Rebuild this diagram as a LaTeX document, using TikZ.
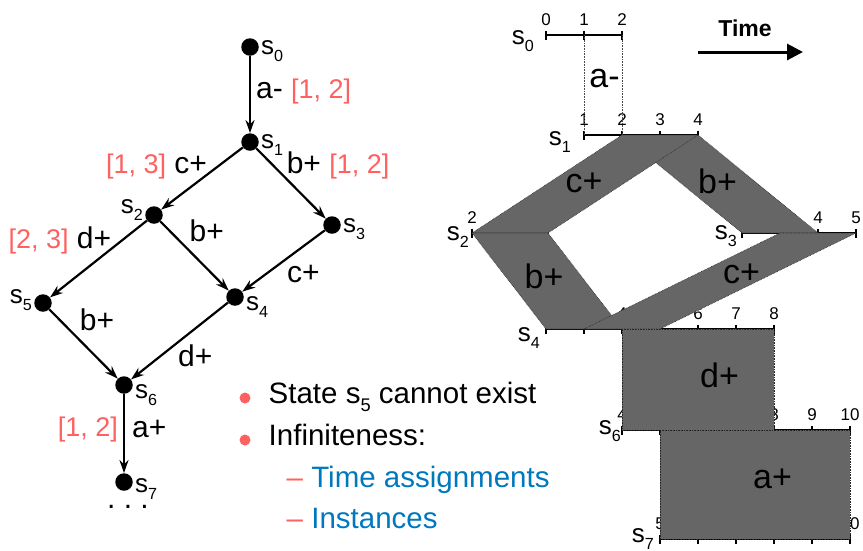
\documentclass[tikz,border=0pt]{standalone}
\usepackage{fontspec}
\setmainfont{Liberation Sans}
\usetikzlibrary{arrows.meta, positioning}

\definecolor{ired}{RGB}{255,96,96}
\definecolor{iblue}{RGB}{0,120,190}
\newcommand{\idx}[1]{\raisebox{-.3em}{\scalebox{.62}{#1}}}
\newcommand{\ivl}[1]{{\color{ired}\fontsize{27}{28}\selectfont #1}}

\tikzset{
  stnode/.style={circle, fill=black, minimum size=17.5pt, inner sep=0pt},
  slbl/.style={font=\fontsize{26}{27}\selectfont, inner sep=1pt},
  trans/.style={line width=2.2pt, -{Stealth[length=13pt, width=9pt]}},
  lbl/.style={font=\fontsize{30}{31}\selectfont, inner sep=1pt},
  tline/.style={line width=2.4pt},
  tickmark/.style={line width=1.8pt},
  tlbl/.style={font=\fontsize{17}{18}\selectfont, inner sep=0pt},
  slab/.style={fill=black!60, draw=black!85, densely dotted, line width=.6pt},
  blbl/.style={font=\fontsize{34}{35}\selectfont, inner sep=0pt, anchor=base},
  btxt/.style={font=\fontsize{29.5}{30}\selectfont, inner sep=0pt, anchor=base west},
  bullet/.style={circle, fill=ired, minimum size=11pt, inner sep=0pt}
}

\begin{document}
\begin{tikzpicture}[x=1pt, y=-1pt, label distance=1pt]
\useasboundingbox (0,0) rectangle (863,550);

% state graph
\node[stnode, label={[slbl, yshift=-4pt]east:s\idx{0}}] (s0) at (250,47) {};
\node[stnode, label={[slbl, yshift=-3pt]east:s\idx{1}}] (s1) at (250,142) {};
\node[stnode, label={[slbl, yshift=5pt]west:s\idx{2}}] (s2) at (154,215) {};
\node[stnode, label={[slbl, yshift=-4pt]east:s\idx{3}}] (s3) at (332,225) {};
\node[stnode, label={[slbl, yshift=-10pt]east:s\idx{4}}] (s4) at (235,297) {};
\node[stnode, label={[slbl, yshift=3pt]west:s\idx{5}}] (s5) at (43,303) {};
\node[stnode, label={[slbl, yshift=-10pt]east:s\idx{6}}] (s6) at (124,385) {};
\node[stnode, label={[slbl, yshift=-7pt]east:s\idx{7}}] (s7) at (124,482) {};
\node[lbl, anchor=base, inner sep=0pt] (more) at (128,508) {.\ .\ .};

\draw[trans] (s0) -- (s1) node[lbl, pos=.557, anchor=base west, xshift=4pt] {a- \ivl{[1, 2]}};
\draw[trans] (s1) -- (s2) node[lbl, pos=.413, anchor=base east] {\ivl{[1, 3]} c+};
\draw[trans] (s1) -- (s3) node[lbl, pos=.351, anchor=base west, xshift=4pt] {b+ \ivl{[1, 2]}};
\draw[trans] (s2) -- (s5) node[lbl, pos=.358, anchor=base east, xshift=1pt] {\ivl{[2, 3]} d+};
\draw[trans] (s2) -- (s4) node[lbl, pos=.296, anchor=base west, xshift=7pt] {b+};
\draw[trans] (s3) -- (s4) node[lbl, pos=.856, anchor=base west, xshift=31pt] {c+};
\draw[trans] (s5) -- (s6) node[lbl, pos=.299, anchor=base west, xshift=8pt] {b+};
\draw[trans] (s4) -- (s6) node[lbl, pos=.835, anchor=base west, xshift=29pt] {d+};
\draw[trans] (s6) -- (s7) node[lbl, pos=.556, anchor=base west, xshift=6pt] {a+}
  node[lbl, pos=.544, anchor=base east, xshift=-4pt] {\ivl{[1, 2]}};

% remarks
\node[bullet] (b1) at (245,398) {};
\node[btxt] (item1) at (268.5,403) {State s\idx{5} cannot exist};
\node[bullet] (b2) at (245,440) {};
\node[btxt] (item2) at (268.5,445) {Infiniteness:};
\node[btxt] (item3) at (286.5,487) {\textcolor{ired}{–} \textcolor{iblue}{Time assignments}};
\node[btxt] (item4) at (286.5,528) {\textcolor{ired}{–} \textcolor{iblue}{Instances}};

% time lines: name/y/origin/first/last/label x/label y
\foreach \rw/\ry/\ro/\ra/\rb/\lx/\ly in {0/35/546/0/2/534/41, 1/135/546/1/4/571/142,
    2/233/396/2/4/469/237, 3/233/666/2/5/737/236, 4/329/470/2/8/540/338,
    6/430/470/4/10/621/431, 7/539/470/5/10/654/539} {
  \draw[tline] (\ro+\ra*38,\ry) -- (\ro+\rb*38,\ry);
  \foreach \k in {\ra,...,\rb} {
    \coordinate (t\rw-\k) at (\ro+\k*38,\ry);
    \draw[tickmark] (\ro+\k*38,\ry-4.5) -- (\ro+\k*38,\ry+4.5);
    \node[tlbl] (n\rw-\k) at (\ro+\k*38,\ry-15.5) {\k};
  }
  \node[slbl, anchor=east] (row\rw) at (\lx+1,\ly) {s\idx{\rw}};
}

\draw[densely dotted, line width=.6pt, black!70] (t0-1) -- (t1-1);
\draw[densely dotted, line width=.6pt, black!70] (t0-2) -- (t1-2);
\node[blbl] (am) at (604.5,87) {a-};

% firing windows
\draw[slab] (t1-2) -- (t1-4) -- (t3-4) -- (t3-2) -- cycle;
\draw[slab] (t1-2) -- (t1-4) -- (t2-4) -- (t2-2) -- cycle;
\draw[slab] (t2-2) -- (t2-4) -- (t4-4) -- (t4-2) -- cycle;
\draw[slab] (t3-3) -- (t3-5) -- (t4-5) -- (t4-3) -- cycle;
\draw[slab] (t4-4) -- (t4-8) -- (t6-8) -- (t6-4) -- cycle;
\draw[slab] (t6-5) -- (t6-10) -- (t7-10) -- (t7-5) -- cycle;

\node[blbl] (lc1) at (584,192) {c+};
\node[blbl] (lb1) at (717.5,193) {b+};
\node[blbl] (lb2) at (544,288) {b+};
\node[blbl] (lc2) at (741.5,283) {c+};
\node[blbl] (ld) at (719.5,387) {d+};
\node[blbl] (la) at (772.5,488) {a+};

% time arrow
\node[font=\bfseries\fontsize{23}{24}\selectfont, inner sep=0pt] (time) at (745,28) {Time};
\coordinate (tstart) at (698,52);
\coordinate (tend) at (803,52);
\draw[line width=3pt, -{Triangle[length=16pt, width=16pt]}] (tstart) -- (tend);
\end{tikzpicture}
\end{document}
